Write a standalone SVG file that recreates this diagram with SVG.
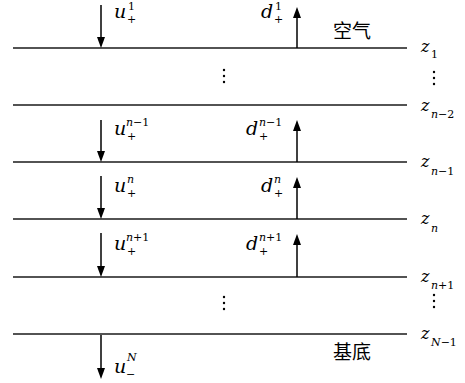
<svg xmlns="http://www.w3.org/2000/svg" width="465" height="383" viewBox="0 0 465 383">
<style>
.ln{stroke:#1a1a1a;stroke-width:1.5;fill:none}
.ar{stroke:#000;stroke-width:1.5;fill:none}
.hd{fill:#000;stroke:none}
.b{font-size:19px;font-style:italic}
.s{font-size:11px;font-style:normal}
.si{font-size:11px;font-style:italic}
.up{font-style:normal}
.z{font-size:16px;font-style:italic}
.cn{font-family:'Noto Sans CJK SC','Noto Sans CJK JP',sans-serif;font-size:19px;fill:#000}
.dot{fill:#000}
</style>
<rect width="465" height="383" fill="#fff"/>
<g id="layers" font-family="DejaVu Serif, serif" fill="#000">
<g id="z1"><line class="ln" x1="13" y1="48" x2="407" y2="48"/>
<text class="z" x="421" y="52">z</text><text class="s" x="431" y="58">1</text></g>
<g id="zn-2"><line class="ln" x1="13" y1="105" x2="407" y2="105"/>
<text class="z" x="421" y="111">z</text><text class="si" x="431" y="118">n<tspan class="up">−2</tspan></text></g>
<g id="zn-1"><line class="ln" x1="13" y1="162" x2="407" y2="162"/>
<text class="z" x="421" y="167">z</text><text class="si" x="431" y="175">n<tspan class="up">−1</tspan></text></g>
<g id="zn"><line class="ln" x1="13" y1="219" x2="407" y2="219"/>
<text class="z" x="421" y="224">z</text><text class="si" x="431" y="232">n</text></g>
<g id="zn+1"><line class="ln" x1="13" y1="277" x2="407" y2="277"/>
<text class="z" x="421" y="282">z</text><text class="si" x="431" y="289">n<tspan class="up">+1</tspan></text></g>
<g id="zN-1"><line class="ln" x1="13" y1="334" x2="407" y2="334"/>
<text class="z" x="421" y="339">z</text><text class="si" x="431" y="346">N<tspan class="up">−1</tspan></text></g>
</g>
<g id="media">
<text id="air" class="cn" x="333" y="38">空气</text>
<text id="substrate" class="cn" x="333" y="359">基底</text>
</g>
<g id="ellipses">
<circle class="dot" cx="224" cy="70" r="1.2"/><circle class="dot" cx="224" cy="76" r="1.2"/><circle class="dot" cx="224" cy="82" r="1.2"/>
<circle class="dot" cx="434" cy="72" r="1.2"/><circle class="dot" cx="434" cy="78" r="1.2"/><circle class="dot" cx="434" cy="84" r="1.2"/>
<circle class="dot" cx="224" cy="297" r="1.2"/><circle class="dot" cx="224" cy="303" r="1.2"/><circle class="dot" cx="224" cy="309" r="1.2"/>
<circle class="dot" cx="434" cy="295" r="1.2"/><circle class="dot" cx="434" cy="301" r="1.2"/><circle class="dot" cx="434" cy="307" r="1.2"/>
</g>
<g id="connectors">
<line class="ar" x1="101" y1="5" x2="101" y2="40"/><polygon class="hd" points="97,37 105,37 101,48"/>
<line class="ar" x1="297" y1="48" x2="297" y2="15"/><polygon class="hd" points="293,18 301,18 297,7"/>
<line class="ar" x1="101" y1="120" x2="101" y2="154"/><polygon class="hd" points="97,151 105,151 101,162"/>
<line class="ar" x1="297" y1="162" x2="297" y2="128"/><polygon class="hd" points="293,131 301,131 297,120"/>
<line class="ar" x1="101" y1="176" x2="101" y2="211"/><polygon class="hd" points="97,208 105,208 101,219"/>
<line class="ar" x1="297" y1="219" x2="297" y2="185"/><polygon class="hd" points="293,188 301,188 297,177"/>
<line class="ar" x1="101" y1="233" x2="101" y2="269"/><polygon class="hd" points="97,266 105,266 101,277"/>
<line class="ar" x1="297" y1="277" x2="297" y2="242"/><polygon class="hd" points="293,245 301,245 297,234"/>
<line class="ar" x1="101" y1="335" x2="101" y2="371"/><polygon class="hd" points="97,368 105,368 101,379"/>
</g>
<g id="labels" font-family="DejaVu Serif, serif" fill="#000">
<g id="u1"><text class="b" x="114" y="18">u</text><text class="s" x="128" y="10">1</text><text class="s" x="127" y="23">+</text></g>
<g id="d1"><text class="b" x="261" y="18">d</text><text class="s" x="275" y="10">1</text><text class="s" x="274" y="23">+</text></g>
<g id="un-1"><text class="b" x="114" y="135">u</text><text class="si" x="126" y="126">n<tspan class="up">−1</tspan></text><text class="s" x="127" y="140">+</text></g>
<g id="dn-1"><text class="b" x="246" y="135">d</text><text class="si" x="259" y="126">n<tspan class="up">−1</tspan></text><text class="s" x="259" y="140">+</text></g>
<g id="un"><text class="b" x="114" y="192">u</text><text class="si" x="127" y="183">n</text><text class="s" x="127" y="197">+</text></g>
<g id="dn"><text class="b" x="261" y="192">d</text><text class="si" x="274" y="183">n</text><text class="s" x="274" y="197">+</text></g>
<g id="un+1"><text class="b" x="114" y="250">u</text><text class="si" x="126" y="241">n<tspan class="up">+1</tspan></text><text class="s" x="127" y="255">+</text></g>
<g id="dn+1"><text class="b" x="246" y="250">d</text><text class="si" x="259" y="241">n<tspan class="up">+1</tspan></text><text class="s" x="259" y="255">+</text></g>
<g id="uN"><text class="b" x="114" y="373">u</text><text class="si" x="127" y="361">N</text><text class="s" x="126" y="378">−</text></g>
</g>
</svg>
